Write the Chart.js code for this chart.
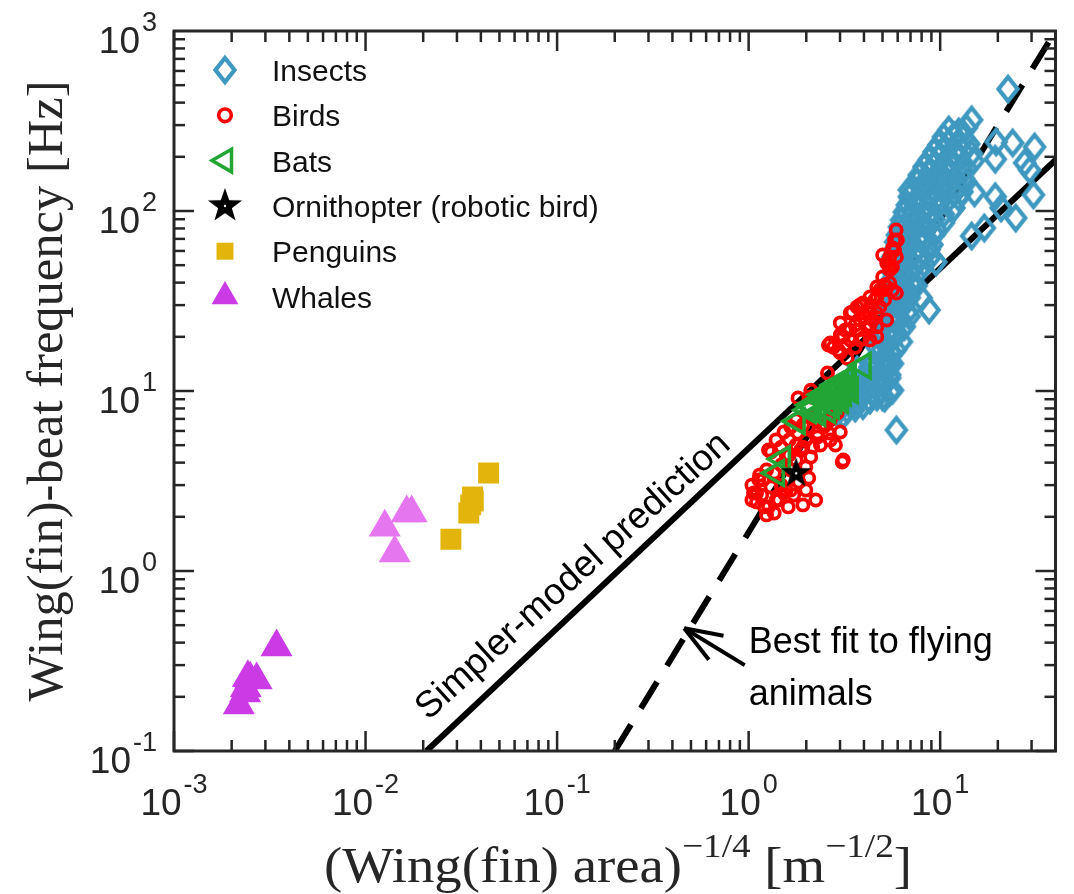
<!DOCTYPE html>
<html>
<head>
<meta charset="utf-8">
<script src="https://cdn.jsdelivr.net/npm/chart.js@4.4.1/dist/chart.umd.min.js"></script>
<style>
  html, body { margin: 0; padding: 0; background: #fff; overflow: hidden; }
  #wrap { width: 1074px; height: 894px; }
  #chart { display: block; }
</style>
</head>
<body>
<div id="wrap"><canvas id="chart"></canvas></div>
<script>
// values: [area^-1/4 (m^-1/2), frequency (Hz)]
const insects = [
  [22.6,476],[14.6,321],[19.6,242],[23.9,239],[31.1,227],[19.4,194],[27.6,185],[29.3,169],
  [30.7,123],[19.4,120],[20.8,104],[24.8,91.5],[15.1,126],[14.6,72.6],[17.0,80.5],[9.5,52.1],
  [7.96,32.9],[8.75,28.2],[6.90,131],
  [11.1,282],[12.5,275],[13.7,290],
  [10.4,258],[11.8,262],[13.2,255],
  [9.84,233],[11.1,240],[12.5,228],[14.1,236],
  [9.29,213],[10.4,216],[11.8,210],[13.2,214],[14.6,208],
  [8.75,192],[9.84,198],[11.1,186],[12.5,195],[14.9,190],
  [8.24,176],[9.29,180],[10.4,172],[11.8,178],[13.7,174],
  [7.77,158],[8.75,162],[9.84,155],[11.1,160],[13.2,152],
  [7.59,145],[8.44,148],[9.50,142],[10.7,146],[12.0,140],[13.6,144],
  [7.33,131],[8.24,135],[9.29,128],[10.4,133],[11.8,126],[13.0,128],
  [6.90,120],[7.77,122],[8.75,118],[9.84,121],[11.1,117],[12.5,119],
  [6.74,108],[7.59,112],[8.55,105],[9.84,110],[11.8,104],
  [6.50,98.7],[7.15,100],[8.05,97],[9.06,99],[10.4,96],
  [6.28,89],[7.06,92],[7.96,87],[9.29,90],[10.4,86],
  [6.13,81.5],[6.66,83],[7.50,80],[8.44,82],[9.50,79],
  [5.98,73.6],[6.74,76],[7.77,71],[9.29,74],
  [5.85,67.3],[6.50,69],[7.15,66],[8.05,68],[9.06,65],
  [5.78,60.7],[6.50,63],[7.33,59],[8.75,61],
  [5.64,55.5],[6.20,57],[6.90,54],[7.77,56],[8.75,54.5],
  [5.64,50.1],[6.35,52],[7.33,49],[8.24,51],
  [5.64,45.8],[6.20,47],[6.90,45],[7.77,46.5],
  [5.58,41.4],[6.28,43],[7.06,40],
  [5.45,37.8],[5.98,39],[6.66,37],[7.50,38.5],
  [5.45,34.1],[6.13,35.5],[6.90,33],
  [5.26,31.2],[5.85,32],[6.50,30.5],
  [5.32,28.2],[5.98,29.5],[6.74,27.5],
  [5.01,25.8],[5.64,26.5],[6.20,25.2],[6.90,26],
  [5.13,23.3],[5.78,24.5],[6.50,22.8],
  [4.84,21.3],[5.45,22],[5.98,20.8],
  [4.95,19.2],[5.58,20],[6.28,18.8],
  [4.67,17.5],[5.26,18],[5.85,17],
  [4.72,15.8],[5.45,16.5],
  [4.45,14.5],[5.01,15],[5.64,14.2],
  [4.56,13.1],[5.13,13.6],
  [4.30,12.0],[4.84,12.3],[5.45,11.8],
  [4.30,10.8],[4.95,11.2],
  [2.90,7.55],[3.39,8.36],[3.82,9.15],[4.30,8.91],[5.13,9.15],[4.84,11.5],[5.45,12.3],
  [3.95,10.1],[3.60,8.05],[4.67,9.27],[5.45,9.87],[3.12,7.36],[5.45,14.3],[5.91,6.07],
  [3.68,13.1],[4.30,13.6],[5.26,14.5],[4.84,10.1],[5.64,10.1],[3.27,7.84],[3.68,8.58],
  [5.01,9.27],[3.39,9.6],[3.60,10.6],[3.82,11.3],[4.15,12.2],[3.95,8.3],[4.45,9.9]
];

const birds = [
  [1.04,3.0],[1.10,2.71],[1.10,2.42],[1.21,2.27],[1.27,2.27],[1.36,2.10],[1.61,2.27],[1.92,2.33],
  [2.24,2.48],[1.14,3.41],[1.31,2.93],[1.57,2.82],[1.83,3.12],[1.99,3.78],[2.11,4.30],[2.16,4.88],
  [1.92,4.88],[1.63,5.35],[1.48,4.88],[1.31,4.58],[1.81,5.85],[2.04,6.31],[2.29,5.85],[2.61,5.85],
  [2.67,5.35],[3.01,5.92],[3.08,4.03],[1.53,5.92],[1.66,6.31],[1.27,4.70],[1.36,3.50],[1.13,3.21],
  [1.53,2.71],[2.29,5.55],[2.11,7.17],[2.67,6.90],[2.90,7.55],[1.77,6.90],[1.81,9.15],[2.11,9.27],
  [2.11,10.1],[2.58,12.6],[2.77,17.5],[2.61,18.0],[3.01,20.5],[3.01,23.9],[3.01,16.3],[3.27,15.2],
  [3.60,17.5],[3.95,19.7],[3.72,21.8],[3.39,27.1],[3.95,27.1],[3.68,29.3],[4.30,29.3],[4.67,20.0],
  [3.95,30.8],[4.30,33.3],[4.67,37.8],[4.67,33.3],[5.01,43.0],[5.26,51.4],[5.45,55.5],[5.64,62.3],
  [5.89,78.4],[5.91,55.5],[5.64,48.9],[5.26,37.8],[5.64,36.4],[5.91,35.0],[5.45,39.8],[4.84,29.3],
  [4.67,27.1],[4.15,22.7],[3.47,27.5],[4.30,27.1],[4.67,22.7],[3.82,19.2],[4.30,19.2],[4.45,24.8],
  [3.12,20.0],[2.67,18.5],[3.12,4.14],[2.46,6.31],[1.06,2.71],
  [1.17,2.64],[1.39,2.48],[1.48,3.0],[1.24,3.64],[1.66,3.64],[1.77,4.14],[1.57,4.41],[1.87,4.70],
  [1.39,5.35],[1.99,5.35],[2.37,5.01],[1.66,2.82],[1.99,2.82],
  [5.13,32.1],[4.84,36.4],[5.45,47.0],[5.78,69.0],[5.26,24.8],[3.82,24.8],[3.39,21.8],[3.19,18.0],
  [5.01,57.0],
  [1.19,3.21],[1.44,2.48],[1.72,2.64],[2.06,3.29],[1.48,3.88],[1.77,5.01],[2.24,6.90],[2.52,6.47],
  [1.92,6.47],[1.63,4.41],[1.04,2.48],[1.24,2.05],[2.84,5.01],
  [3.39,19.2],[3.60,23.3],[4.05,25.5],[4.56,32.1],[5.13,38.8],[5.45,50.1],[5.01,36.4],[4.30,23.3],
  [3.82,30.1],[3.19,21.8],[2.94,16.9],[5.78,60.7],[5.98,69.0]
];

const bats = [
  [1.395,3.50],[1.50,4.19],[1.79,6.8],[2.04,7.84],[2.19,8.15],[2.29,7.55],[2.38,8.9],[2.58,9.27],
  [2.58,7.84],[2.68,10.1],[2.78,8.9],[2.91,10.5],[3.01,11.1],[3.12,9.75],[3.20,11.5],[3.96,13.8],
  [2.45,9.6],[2.85,9.9],[3.05,10.2],[2.70,8.3],[2.95,9.3],[3.3,10.6],
  [2.11,8.36],[2.43,9.5],[2.84,10.8],[3.31,11.8],[3.01,8.91],[2.67,8.36],[3.39,10.1]
];

const ornithopter = [[1.77,3.49]];

const penguins = [[0.0439,3.5],[0.0362,2.58],[0.0354,2.33],[0.0346,2.1],[0.0279,1.5],[0.0365,2.45]];

const whales = [[0.00218,0.18],[0.00235,0.21],[0.00237,0.224],[0.00243,0.255],[0.0025,0.25],[0.0027,0.248],[0.00343,0.378]];
const whalesLight = [[0.0126,1.75],[0.0164,2.1],[0.0174,2.1],[0.0142,1.26]];

// the two model lines (end points)
const simplerX = [0.0208, 40];
const simplerY = [0.1, 192];
const fitX = [0.2, 40];
const fitY = [0.1, 1000];

// annotation arrow: tip, tail
const arrowX = [0.461, 0.954];
const arrowY = [0.481, 0.30];

const xTicks = [1e-3, 1e-2, 1e-1, 1, 10];
const xTickExp = ['-3', '-2', '-1', '0', '1'];
const yTicks = [0.1, 1, 10, 100, 1000];
const yTickExp = ['-1', '0', '1', '2', '3'];

const legendLabels = ['Insects', 'Birds', 'Bats', 'Ornithopter (robotic bird)', 'Penguins', 'Whales'];

const cInsect = '#3f98c0';
const cBird = '#ff0000';
const cBat = '#22a535';
const cPeng = '#e2b40c';
const cWhale = '#cb3be5';
const cWhaleLight = '#e676ef';
const axisColor = '#262626';

const pts = a => a.map(p => ({ x: p[0], y: p[1] }));

function makeDiamond() {
  const c = document.createElement('canvas');
  c.width = 30; c.height = 36;
  const g = c.getContext('2d');
  g.strokeStyle = cInsect; g.lineWidth = 4.3;
  g.beginPath();
  g.moveTo(15, 6); g.lineTo(24.5, 18); g.lineTo(15, 30); g.lineTo(5.5, 18);
  g.closePath(); g.stroke();
  return c;
}

function makeStar(R) {
  const c = document.createElement('canvas');
  const s = Math.ceil(R * 2 + 4);
  c.width = s; c.height = s;
  const g = c.getContext('2d');
  g.fillStyle = '#000';
  g.beginPath();
  for (let i = 0; i < 10; i++) {
    const r = i % 2 ? R * 0.4 : R;
    const a = -Math.PI / 2 + i * Math.PI / 5;
    g.lineTo(s / 2 + r * Math.cos(a), s / 2 + r * Math.sin(a));
  }
  g.closePath(); g.fill();
  g.fillStyle = '#fff';
  g.beginPath(); g.arc(s / 2, s / 2, 1.2, 0, Math.PI * 2); g.fill();
  return c;
}

const diamondImg = makeDiamond();
const starImg = makeStar(16);
const starLegend = makeStar(18);

function seg(ctx, x0, y0, x1, y1) {
  ctx.beginPath(); ctx.moveTo(x0, y0); ctx.lineTo(x1, y1); ctx.stroke();
}

function drawPow(ctx, exp, x, y, align) {
  const fb = '37px "Liberation Sans", Arial, sans-serif';
  const fs = '27px "Liberation Sans", Arial, sans-serif';
  ctx.font = fb; const wb = ctx.measureText('10').width;
  ctx.font = fs; const we = ctx.measureText(exp).width;
  const total = wb + 2 + we;
  const x0 = align === 'center' ? x - total / 2 : x - total;
  ctx.textAlign = 'left'; ctx.textBaseline = 'alphabetic';
  ctx.font = fb; ctx.fillText('10', x0, y);
  ctx.font = fs; ctx.fillText(exp, x0 + wb + 2, y - 22);
}

function drawRich(ctx, parts, x, y, width, rot) {
  const fb = '50px "Liberation Serif", "DejaVu Serif", serif';
  const fs = '34px "Liberation Serif", "DejaVu Serif", serif';
  let w = 0;
  const ws = parts.map(p => { ctx.font = p[1] ? fs : fb; const m = ctx.measureText(p[0]).width; w += m; return m; });
  ctx.save();
  ctx.translate(x, y); ctx.rotate(rot); ctx.scale(width / w, 1);
  ctx.textAlign = 'left'; ctx.textBaseline = 'alphabetic';
  let cx = -w / 2;
  parts.forEach((p, i) => {
    ctx.font = p[1] ? fs : fb;
    ctx.fillText(p[0], cx, p[1] ? -25 : 0);
    cx += ws[i];
  });
  ctx.restore();
}

const decor = {
  id: 'decor',
  afterDraw(chart) {
    const ctx = chart.ctx, a = chart.chartArea;
    const xs = chart.scales.x, ys = chart.scales.y;
    ctx.save();

    // ticks on all four sides, pointing inwards
    ctx.strokeStyle = axisColor; ctx.lineWidth = 2.5;
    for (let e = -3; e <= 2; e++) {
      for (let m = 1; m <= 9; m++) {
        const v = m * Math.pow(10, e);
        const len = m === 1 ? 20 : 11;
        if (v >= xs.min && v <= xs.max) {
          const p = xs.getPixelForValue(v);
          seg(ctx, p, a.bottom, p, a.bottom - len);
          seg(ctx, p, a.top, p, a.top + len);
        }
        if (v >= ys.min && v <= ys.max) {
          const p = ys.getPixelForValue(v);
          seg(ctx, a.left, p, a.left + len, p);
          seg(ctx, a.right, p, a.right - len, p);
        }
      }
    }
    ctx.lineWidth = 3;
    ctx.strokeRect(a.left, a.top, a.right - a.left, a.bottom - a.top);

    // tick labels
    ctx.fillStyle = axisColor;
    xTicks.forEach((v, i) => drawPow(ctx, xTickExp[i], xs.getPixelForValue(v), 815, 'center'));
    yTicks.forEach((v, i) => drawPow(ctx, yTickExp[i], a.left - 17, ys.getPixelForValue(v) + 22, 'right'));

    // axis titles
    drawRich(ctx, [['Wing(fin)-beat frequency [Hz]', false]], 62, (a.top + a.bottom) / 2, 621, -Math.PI / 2);
    drawRich(ctx, [['(Wing(fin) area)', false], ['\u22121/4', true], [' [m', false], ['\u22121/2', true], [']', false]],
      618, 882, 588, 0);

    // legend
    const H = Chart.helpers;
    const lx = a.left + 51, tx = a.left + 98;
    const legendMarks = [
      { pointStyle: diamondImg, radius: 12, borderWidth: 0 },
      { pointStyle: 'circle', radius: 6.3, borderWidth: 3.6, stroke: cBird },
      { pointStyle: 'triangle', radius: 13, rotation: -90, borderWidth: 3.5, stroke: cBat },
      { pointStyle: starLegend, radius: 18, borderWidth: 0 },
      { pointStyle: 'rect', radius: 12, borderWidth: 0, fill: cPeng },
      { pointStyle: 'triangle', radius: 15.5, borderWidth: 0, fill: cWhale }
    ];
    legendLabels.forEach((lab, i) => {
      const cy = a.top + 39 + i * 45.3;
      const mk = legendMarks[i];
      ctx.fillStyle = mk.fill || 'rgba(0,0,0,0)';
      ctx.strokeStyle = mk.stroke || '#000';
      ctx.lineWidth = mk.borderWidth;
      H.drawPoint(ctx, { pointStyle: mk.pointStyle, radius: mk.radius, rotation: mk.rotation || 0, borderWidth: mk.borderWidth }, lx, cy);
      ctx.fillStyle = '#111';
      ctx.font = '30px "Liberation Sans", Arial, sans-serif';
      ctx.textAlign = 'left'; ctx.textBaseline = 'alphabetic';
      ctx.fillText(lab, tx, cy + 11);
    });

    // rotated label along the simpler-model line
    const p0x = xs.getPixelForValue(simplerX[0]), p0y = ys.getPixelForValue(simplerY[0]);
    const p1x = xs.getPixelForValue(simplerX[1]), p1y = ys.getPixelForValue(simplerY[1]);
    const ang = Math.atan2(p1y - p0y, p1x - p0x) + 0.02;
    const ux = Math.cos(ang), uy = Math.sin(ang);
    const cx = p0x + ux * 226 + uy * 21, cy = p0y + uy * 226 - ux * 21;
    ctx.save();
    ctx.translate(cx, cy); ctx.rotate(ang);
    ctx.fillStyle = '#000';
    ctx.font = '37px "Liberation Sans", Arial, sans-serif';
    ctx.textAlign = 'center'; ctx.textBaseline = 'alphabetic';
    ctx.fillText('Simpler-model prediction', 0, 0);
    ctx.restore();

    // best-fit annotation with arrow
    const tipX = xs.getPixelForValue(arrowX[0]), tipY = ys.getPixelForValue(arrowY[0]);
    const tailX = xs.getPixelForValue(arrowX[1]), tailY = ys.getPixelForValue(arrowY[1]);
    ctx.strokeStyle = '#000'; ctx.lineWidth = 4; ctx.lineCap = 'butt';
    seg(ctx, tailX, tailY, tipX, tipY);
    const da = Math.atan2(tailY - tipY, tailX - tipX);
    [-0.36, 0.36].forEach(d => seg(ctx, tipX, tipY, tipX + 40 * Math.cos(da + d), tipY + 40 * Math.sin(da + d)));
    ctx.fillStyle = '#000';
    ctx.font = '36px "Liberation Sans", Arial, sans-serif';
    ctx.textAlign = 'left';
    const bx = xs.getPixelForValue(1);
    ctx.fillText('Best fit to flying', bx, 653);
    ctx.fillText('animals', bx, 705);

    ctx.restore();
  }
};

new Chart(document.getElementById('chart'), {
  type: 'scatter',
  data: {
    datasets: [
      { label: 'Ornithopter (robotic bird)', data: pts(ornithopter), order: 1,
        pointStyle: starImg, pointRadius: 16 },
      { label: 'Bats', data: pts(bats), order: 2,
        pointStyle: 'triangle', pointRotation: -90, pointRadius: 14, pointBorderWidth: 3.6,
        pointBorderColor: cBat, pointBackgroundColor: 'rgba(0,0,0,0)' },
      { label: 'Birds', data: pts(birds), order: 3,
        pointStyle: 'circle', pointRadius: 5.6, pointBorderWidth: 3.7,
        pointBorderColor: cBird, pointBackgroundColor: 'rgba(0,0,0,0)' },
      { label: 'Insects', data: pts(insects), order: 4,
        pointStyle: diamondImg, pointRadius: 12 },
      { label: 'Penguins', data: pts(penguins), order: 5,
        pointStyle: 'rect', pointRadius: 14.8, pointBorderWidth: 0,
        pointBackgroundColor: cPeng },
      { label: 'Whales', data: pts(whales), order: 6,
        pointStyle: 'triangle', pointRadius: 18.5, pointBorderWidth: 0,
        pointBackgroundColor: cWhale },
      { label: 'Whales (light)', data: pts(whalesLight), order: 7,
        pointStyle: 'triangle', pointRadius: 18.5, pointBorderWidth: 0,
        pointBackgroundColor: cWhaleLight },
      { label: 'Simpler model', data: simplerX.map((x, i) => ({ x, y: simplerY[i] })), order: 8,
        showLine: true, borderColor: '#000', borderWidth: 6, pointRadius: 0 },
      { label: 'Best fit', data: fitX.map((x, i) => ({ x, y: fitY[i] })), order: 9,
        showLine: true, borderColor: '#000', borderWidth: 6, borderDash: [31, 19], pointRadius: 0 }
    ]
  },
  options: {
    responsive: true,
    maintainAspectRatio: false,
    animation: false,
    events: [],
    layout: { padding: { left: 174, top: 31, right: 9, bottom: 143 } },
    plugins: {
      legend: { display: false },
      tooltip: { enabled: false }
    },
    scales: {
      x: { type: 'logarithmic', min: 0.001, max: 40, display: false },
      y: { type: 'logarithmic', min: 0.1, max: 1000, display: false }
    }
  },
  plugins: [decor]
});
</script>
</body>
</html>
